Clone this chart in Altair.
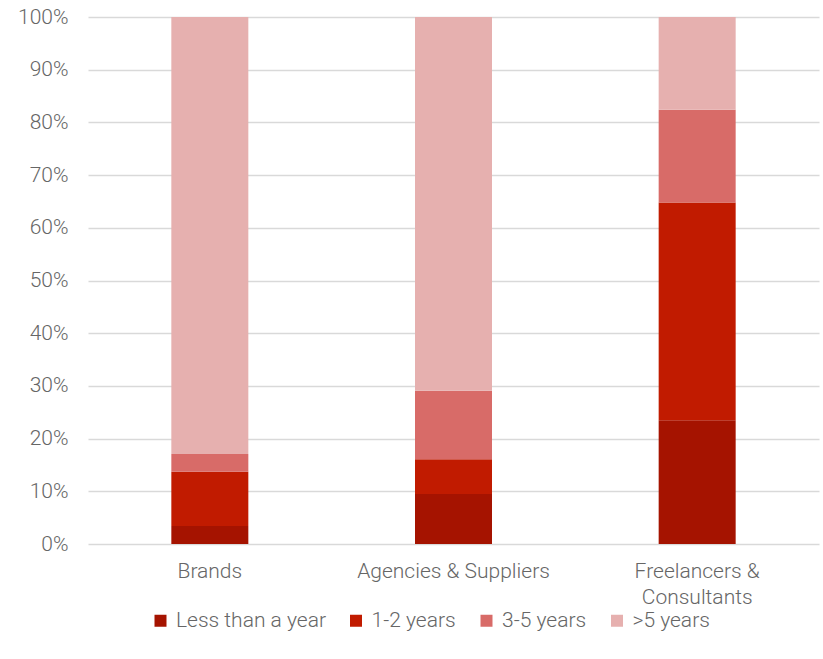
import altair as alt
import pandas as pd

categories = ["Brands", "Agencies & Suppliers", "Freelancers & Consultants"]
series = ["Less than a year", "1-2 years", "3-5 years", ">5 years"]
less_than_year = [3.4, 9.5, 23.5]
one_two = [10.3, 6.6, 41.3]
three_five = [3.4, 13.0, 17.6]
over_five = [82.9, 70.9, 17.6]
colors = ["#A51300", "#C11B00", "#D86B68", "#E6B0AF"]
y_ticks = [0, 0.1, 0.2, 0.3, 0.4, 0.5, 0.6, 0.7, 0.8, 0.9, 1.0]

rows = []
for s_i, (name, vals) in enumerate(zip(series, [less_than_year, one_two, three_five, over_five])):
    for c, v in zip(categories, vals):
        rows.append({"category": c, "series": name, "value": v / 100.0, "order": s_i})
df = pd.DataFrame(rows)

font = "Roboto"
label_color = "#666666"
fs = 21

chart = alt.Chart(df).mark_bar(size=77).encode(
    x=alt.X("category:N", sort=categories,
            scale=alt.Scale(paddingInner=0.684, paddingOuter=0.342),
            axis=alt.Axis(title=None, labelAngle=0, ticks=False, domain=False, grid=False,
                          labelFont=font, labelFontSize=fs, labelFontWeight=300, labelLimit=500,
                          labelColor=label_color, labelPadding=16, labelLineHeight=26,
                          labelExpr="datum.label == 'Freelancers & Consultants' ? ['Freelancers &', 'Consultants'] : datum.label")),
    y=alt.Y("value:Q", stack="zero",
            scale=alt.Scale(domain=[0, 1], nice=False),
            axis=alt.Axis(title=None, format=".0%", values=y_ticks, labelOverlap=False,
                          ticks=False, domain=False, grid=True, gridColor="#d9d9d9", gridWidth=1.5,
                          labelFont=font, labelFontSize=fs, labelFontWeight=300,
                          labelColor=label_color, labelPadding=20)),
    color=alt.Color("series:N", sort=series,
                    scale=alt.Scale(domain=series, range=colors),
                    legend=alt.Legend(title=None, orient="none", direction="horizontal",
                                      legendX=62, legendY=593,
                                      symbolType="square", symbolSize=144, symbolStrokeWidth=0,
                                      labelFont=font, labelFontSize=fs, labelFontWeight=300,
                                      labelColor=label_color, labelOffset=5, columnPadding=19.5)),
    order=alt.Order("order:Q", sort="ascending"),
).properties(
    width=731, height=527,
    autosize=alt.AutoSizeParams(type="none"),
    padding={"left": 88, "top": 17, "right": 4, "bottom": 115},
).configure(background="white", view=alt.ViewConfig(stroke=None))

chart.save("out.html", embed_options={"renderer": "svg", "actions": False})
